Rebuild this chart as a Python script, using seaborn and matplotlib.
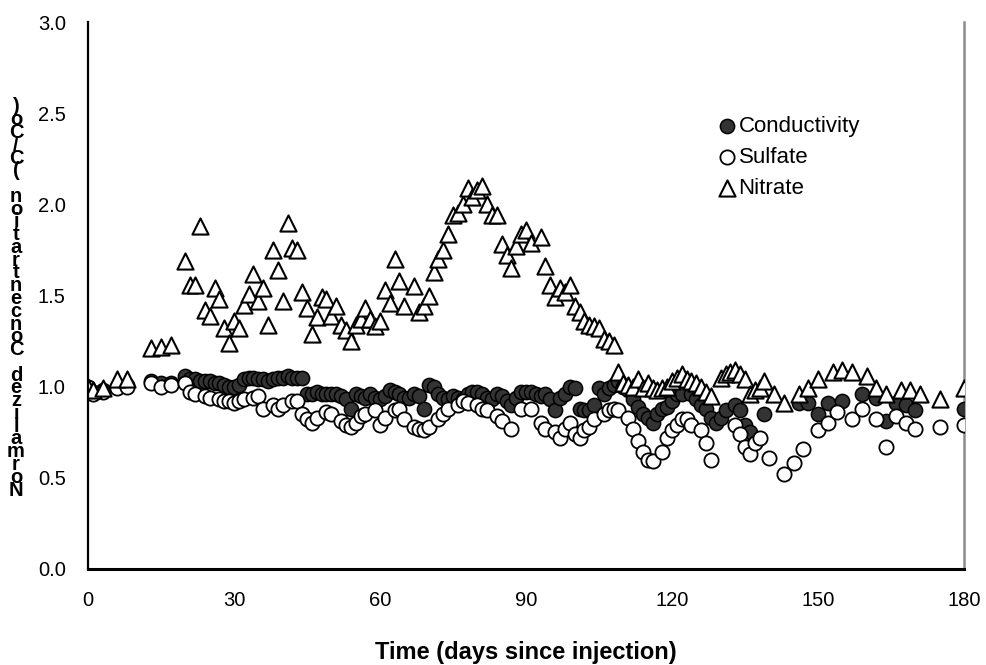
import matplotlib
matplotlib.use("Agg")
import matplotlib.pyplot as plt
import seaborn as sns
import pandas as pd

# Conductivity (C/Co) by day
cond_days = [0, 1, 3, 6, 8, 13, 15, 17, 20, 21, 22, 23, 24, 25, 26, 27, 28, 29, 30,
             31, 32, 33, 34, 35, 36, 37, 38, 39, 40, 41, 42, 43, 44, 45, 46, 47, 48, 49,
             50, 51, 52, 53, 54, 55, 56, 57, 58, 59, 60, 61, 62, 63, 64, 65, 66, 67, 68,
             69, 70, 71, 72, 73, 74, 75, 76, 77, 78, 79, 80, 81, 82, 83, 84, 85, 86, 87,
             88, 89, 90, 91, 92, 93, 94, 95, 96, 97, 98, 99, 100, 101, 102, 103, 104,
             105, 106, 107, 108, 109, 110, 111, 112, 113, 114, 115, 116, 117, 118, 119,
             120, 121, 122, 124, 125, 126, 127, 128, 129, 130, 131, 133, 134, 135, 136,
             139, 146, 148, 150, 152, 155, 159, 162, 164, 166, 168, 170, 180]
cond_vals = [0.99, 0.97, 0.98, 1.00, 1.01, 1.03, 1.02, 1.02, 1.06, 1.04, 1.04, 1.03,
             1.03, 1.03, 1.02, 1.02, 1.01, 1.00, 1.00, 1.01, 1.04, 1.05, 1.05, 1.04,
             1.04, 1.03, 1.04, 1.05, 1.05, 1.06, 1.05, 1.05, 1.05, 0.96, 0.96, 0.97,
             0.96, 0.96, 0.96, 0.96, 0.95, 0.93, 0.88, 0.96, 0.95, 0.94, 0.96, 0.94,
             0.93, 0.95, 0.98, 0.97, 0.96, 0.94, 0.94, 0.96, 0.95, 0.88, 1.01, 1.00,
             0.96, 0.94, 0.93, 0.95, 0.94, 0.93, 0.96, 0.97, 0.97, 0.96, 0.94, 0.93,
             0.96, 0.95, 0.92, 0.90, 0.94, 0.97, 0.97, 0.97, 0.96, 0.95, 0.96, 0.93,
             0.87, 0.94, 0.96, 1.00, 0.99, 0.88, 0.87, 0.87, 0.90, 0.99, 0.96, 0.99,
             1.01, 1.03, 1.00, 0.98, 0.93, 0.89, 0.85, 0.83, 0.80, 0.85, 0.88, 0.89,
             0.92, 0.96, 0.96, 0.96, 0.93, 0.90, 0.88, 0.83, 0.80, 0.83, 0.87, 0.90,
             0.87, 0.79, 0.75, 0.85, 0.91, 0.91, 0.85, 0.91, 0.92, 0.96, 0.94, 0.81,
             0.91, 0.90, 0.87, 0.88]

# Sulfate (C/Co) by day
sulf_days = [0, 1, 3, 6, 8, 13, 15, 17, 20, 21, 22, 24, 25, 27, 28, 29, 30, 31, 32,
             34, 35, 36, 38, 39, 40, 42, 43, 44, 45, 46, 47, 49, 50, 52, 53, 54, 55,
             56, 57, 59, 60, 61, 63, 64, 65, 67, 68, 69, 70, 72, 73, 74, 76, 77, 78,
             80, 81, 82, 84, 85, 87, 89, 91, 93, 94, 96, 97, 98, 99, 100, 101, 102,
             103, 104, 106, 107, 108, 109, 111, 112, 113, 114, 115, 116, 118, 119,
             120, 121, 122, 123, 124, 126, 127, 128, 133, 134, 135, 136, 137, 138,
             140, 143, 145, 147, 150, 152, 154, 157, 159, 162, 164, 166, 168, 170,
             175, 180]
sulf_vals = [1.00, 0.96, 0.97, 0.99, 1.00, 1.02, 1.00, 1.01, 1.02, 0.97, 0.96, 0.95,
             0.94, 0.93, 0.92, 0.92, 0.91, 0.92, 0.93, 0.94, 0.95, 0.88, 0.90, 0.88,
             0.90, 0.92, 0.92, 0.85, 0.82, 0.80, 0.83, 0.86, 0.85, 0.81, 0.79, 0.78,
             0.80, 0.84, 0.85, 0.87, 0.79, 0.83, 0.87, 0.88, 0.82, 0.78, 0.77, 0.76,
             0.78, 0.82, 0.85, 0.88, 0.90, 0.92, 0.91, 0.90, 0.88, 0.87, 0.84, 0.81,
             0.77, 0.88, 0.88, 0.80, 0.77, 0.75, 0.72, 0.77, 0.80, 0.74, 0.72, 0.76,
             0.78, 0.82, 0.85, 0.87, 0.88, 0.87, 0.83, 0.77, 0.70, 0.64, 0.60, 0.59,
             0.64, 0.72, 0.76, 0.79, 0.82, 0.82, 0.79, 0.76, 0.69, 0.60, 0.79, 0.74,
             0.67, 0.63, 0.69, 0.72, 0.61, 0.52, 0.58, 0.66, 0.76, 0.80, 0.86, 0.82,
             0.88, 0.82, 0.67, 0.84, 0.80, 0.77, 0.78, 0.79]

# Nitrate (C/Co) by day
nit_days = [0, 1, 3, 6, 8, 13, 15, 17, 20, 21, 22, 23, 24, 25, 26, 27, 28, 29, 30, 31,
            32, 33, 34, 35, 36, 37, 38, 39, 40, 41, 42, 43, 44, 45, 46, 47, 48, 49, 50,
            51, 52, 53, 54, 55, 56, 57, 58, 59, 60, 61, 62, 63, 64, 65, 67, 68, 69, 70,
            71, 72, 73, 74, 75, 76, 77, 78, 79, 80, 81, 82, 83, 84, 85, 86, 87, 88, 89,
            90, 91, 93, 94, 95, 96, 97, 98, 99, 100, 101, 102, 103, 104, 105, 106, 107,
            108, 109, 110, 111, 112, 113, 114, 115, 116, 117, 118, 119, 120, 121, 122,
            123, 124, 125, 126, 127, 128, 130, 131, 132, 133, 134, 135, 136, 137, 138,
            139, 141, 143, 146, 148, 150, 153, 155, 157, 160, 162, 164, 167, 169, 171,
            175, 180]
nit_vals = [1.00, 0.98, 0.99, 1.04, 1.04, 1.21, 1.22, 1.23, 1.69, 1.56, 1.56, 1.88,
            1.42, 1.39, 1.54, 1.48, 1.32, 1.24, 1.36, 1.32, 1.45, 1.51, 1.62, 1.47,
            1.54, 1.34, 1.75, 1.64, 1.47, 1.90, 1.76, 1.75, 1.52, 1.43, 1.29, 1.38,
            1.49, 1.48, 1.39, 1.44, 1.34, 1.31, 1.25, 1.34, 1.37, 1.43, 1.37, 1.33,
            1.36, 1.53, 1.46, 1.70, 1.58, 1.44, 1.55, 1.41, 1.44, 1.50, 1.63, 1.70,
            1.75, 1.84, 1.94, 1.95, 2.00, 2.09, 2.04, 2.08, 2.10, 2.00, 1.94, 1.94,
            1.78, 1.72, 1.65, 1.77, 1.84, 1.86, 1.79, 1.82, 1.66, 1.56, 1.49, 1.54,
            1.52, 1.56, 1.44, 1.41, 1.36, 1.34, 1.33, 1.32, 1.26, 1.25, 1.23, 1.08,
            1.02, 1.01, 1.00, 1.04, 0.99, 1.02, 0.99, 0.98, 0.99, 1.00, 1.03, 1.05,
            1.07, 1.04, 1.03, 1.02, 1.00, 0.97, 0.95, 1.05, 1.07, 1.08, 1.09, 1.07,
            1.04, 0.96, 0.98, 0.99, 1.03, 0.96, 0.91, 0.96, 0.99, 1.04, 1.08, 1.09,
            1.08, 1.06, 0.99, 0.96, 0.98, 0.98, 0.96, 0.93, 0.99]

x_ticks = [0, 30, 60, 90, 120, 150, 180]
y_ticks = [0.0, 0.5, 1.0, 1.5, 2.0, 2.5, 3.0]
x_label = "Time (days since injection)"
y_label = "Normalized Concentration (C/Co)"

sns.set_theme(style="white")
plt.rcParams["font.family"] = ["Liberation Sans", "DejaVu Sans"]
plt.rcParams["text.color"] = "black"
plt.rcParams["axes.labelcolor"] = "black"

cond = pd.DataFrame({"day": cond_days, "cc": cond_vals})
sulf = pd.DataFrame({"day": sulf_days, "cc": sulf_vals})
nit = pd.DataFrame({"day": nit_days, "cc": nit_vals})

fig = plt.figure(figsize=(9.87, 6.65), dpi=100)
ax = fig.add_axes([88 / 987, 1 - 569 / 665, (964 - 88) / 987, (569 - 22) / 665])

sns.scatterplot(data=cond, x="day", y="cc", ax=ax, marker="o", s=105,
                color="#333333", edgecolor="black", linewidth=1.1,
                label="Conductivity", zorder=3)
sns.scatterplot(data=sulf, x="day", y="cc", ax=ax, marker="o", s=105,
                color="white", edgecolor="black", linewidth=1.3,
                label="Sulfate", zorder=4)
sns.scatterplot(data=nit, x="day", y="cc", ax=ax, marker="^", s=135,
                color="white", edgecolor="black", linewidth=1.5,
                label="Nitrate", zorder=5)

ax.set_xlim(0, 180)
ax.set_ylim(0, 3.0)
ax.set_xticks(x_ticks)
ax.set_xticklabels([str(t) for t in x_ticks])
ax.set_yticks(y_ticks)
ax.set_yticklabels([f"{t:.1f}" for t in y_ticks])
ax.tick_params(axis="both", direction="inout", length=12, width=1.2,
               colors="black", labelcolor="black", labelsize=14.5)
ax.tick_params(axis="x", pad=10)
ax.tick_params(axis="y", pad=10)
ax.set_xlabel(x_label, fontsize=17, fontweight="bold", labelpad=22,
              color="black")
ax.set_ylabel("")

ax.spines["top"].set_visible(False)
ax.spines["left"].set_color("black")
ax.spines["left"].set_linewidth(1.6)
ax.spines["bottom"].set_color("black")
ax.spines["bottom"].set_linewidth(2.2)
ax.spines["right"].set_color("#8c8c8c")
ax.spines["right"].set_linewidth(1.8)
for sp in ax.spines.values():
    sp.set_zorder(6)
ax.spines["right"].set_zorder(1)

# y-axis title stacked one upright character per line, last character on top
chars = list(y_label)[::-1]
top_px, bottom_px = 107, 490
step = (bottom_px - top_px) / (len(chars) - 1)
for i, ch in enumerate(chars):
    ypx = top_px + i * step
    fig.text(16 / 987, 1 - ypx / 665, ch, ha="center", va="center",
             fontsize=14.5, fontweight="bold", color="black")

leg = ax.legend(loc="upper left", bbox_to_anchor=(703 / 987, 1 - 105 / 665),
                bbox_transform=fig.transFigure, frameon=False, fontsize=16,
                handletextpad=-0.1, labelspacing=0.45, borderpad=0,
                handlelength=1.2, markerscale=1.0, labelcolor="black")

fig.savefig("out.png", dpi=100, facecolor="white")
